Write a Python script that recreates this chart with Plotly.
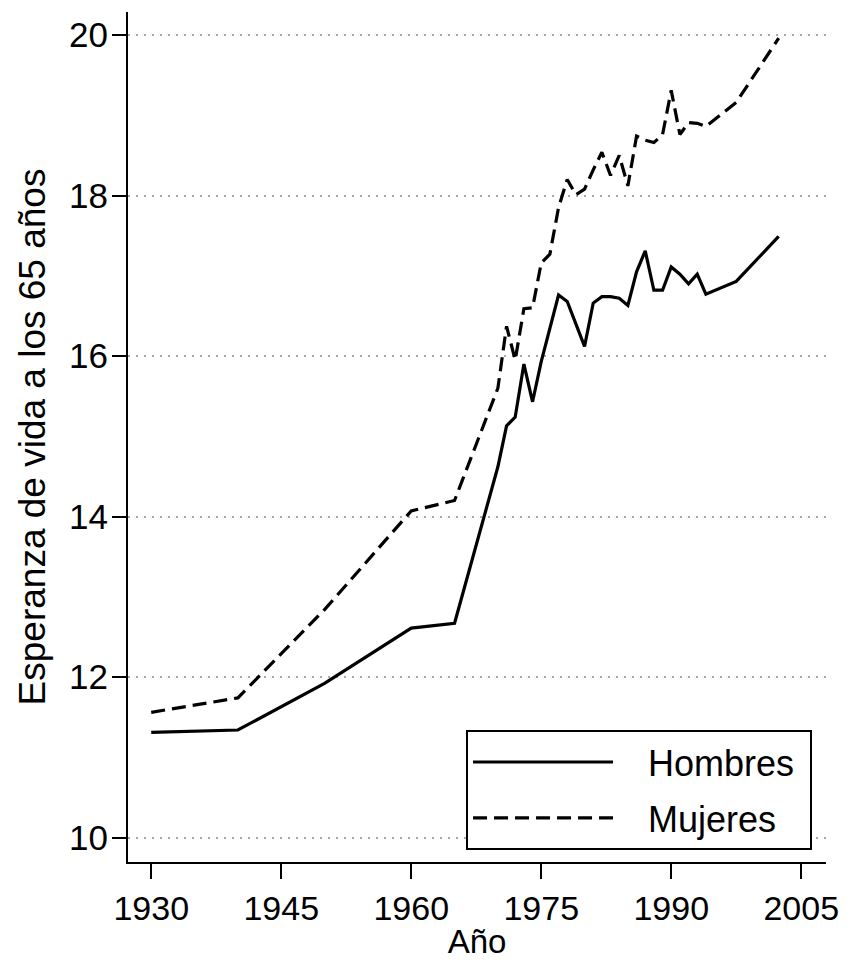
import plotly.graph_objects as go

# ---- data ----
years_h = [1930, 1940, 1950, 1960, 1965, 1970, 1971, 1972, 1973, 1974, 1975, 1976,
           1977, 1978, 1979, 1980, 1981, 1982, 1983, 1984, 1985, 1986, 1987, 1988,
           1989, 1990, 1991, 1992, 1993, 1994, 1997.5, 2002.4]
hombres = [11.31, 11.34, 11.92, 12.61, 12.67, 14.62, 15.13, 15.24, 15.90, 15.43, 15.93, 16.35,
           16.76, 16.68, 16.40, 16.12, 16.66, 16.74, 16.74, 16.72, 16.63, 17.05, 17.31, 16.82,
           16.82, 17.11, 17.02, 16.90, 17.02, 16.77, 16.93, 17.49]

years_m = [1930, 1940, 1950, 1960, 1965, 1970, 1971, 1972, 1973, 1974, 1975, 1976,
           1977, 1978, 1979, 1980, 1981, 1982, 1983, 1984, 1985, 1986, 1987, 1988,
           1989, 1990, 1991, 1992, 1993, 1994, 1997.5, 2002.4]
mujeres = [11.56, 11.74, 12.84, 14.07, 14.20, 15.60, 16.37, 15.95, 16.59, 16.60, 17.16, 17.27,
           17.85, 18.20, 18.01, 18.08, 18.32, 18.54, 18.25, 18.50, 18.12, 18.74, 18.69, 18.66,
           18.76, 19.31, 18.76, 18.91, 18.90, 18.86, 19.16, 19.96]

x_ticks = [1930, 1945, 1960, 1975, 1990, 2005]
y_ticks = [10, 12, 14, 16, 18, 20]
series_names = ["Hombres", "Mujeres"]

FONT = "Liberation Sans, Arial, Helvetica, sans-serif"
PAD_L = "\u00a0\u00a0\u00a0"
PAD_R = "\u00a0"

fig = go.Figure()
fig.add_trace(go.Scatter(x=years_h, y=hombres, mode="lines",
                         name=PAD_L + series_names[0] + PAD_R,
                         legendgroup="h",
                         line=dict(color="black", width=3.2)))
fig.add_trace(go.Scatter(x=years_m, y=mujeres, mode="lines",
                         name=PAD_L + series_names[1] + PAD_R,
                         legendgroup="m",
                         line=dict(color="black", width=3.2, dash="14px,7px")))

fig.update_layout(
    width=854, height=960,
    margin=dict(l=128, r=28, t=12, b=98),
    paper_bgcolor="white", plot_bgcolor="white",
    font=dict(family=FONT, color="black", size=35),
    showlegend=True,
    legend=dict(x=0.98, xanchor="right", y=0.014, yanchor="bottom",
                bordercolor="black", borderwidth=2, bgcolor="white",
                font=dict(size=36, family=FONT), itemwidth=140,
                tracegroupgap=6),
)
fig.update_xaxes(
    range=[1927.32, 2007.86], tickvals=x_ticks, ticktext=[str(v) for v in x_ticks],
    showline=True, linecolor="black", linewidth=2,
    ticks="outside", ticklen=15, tickwidth=2, tickcolor="black",
    showgrid=False, zeroline=False, automargin=False,
    tickfont=dict(size=34, family=FONT),
    title=dict(text="Año", font=dict(size=33, family=FONT), standoff=0),
)
fig.update_yaxes(
    range=[9.695, 20.287], tickvals=y_ticks, ticktext=[str(v) for v in y_ticks],
    showline=True, linecolor="black", linewidth=2,
    ticks="outside", ticklen=14, tickwidth=2, tickcolor="black",
    showgrid=True, gridcolor="#a8a8a8", gridwidth=2, griddash="2px,6px",
    zeroline=False, automargin=False, ticklabelstandoff=-3,
    tickfont=dict(size=35, family=FONT),
    title=dict(text="Esperanza de vida a los 65 años", font=dict(size=37, family=FONT), standoff=12),
)

fig.write_html("out.html", config={"displayModeBar": False},
               post_script="document.body.style.margin='0';document.body.style.overflow='hidden';")
